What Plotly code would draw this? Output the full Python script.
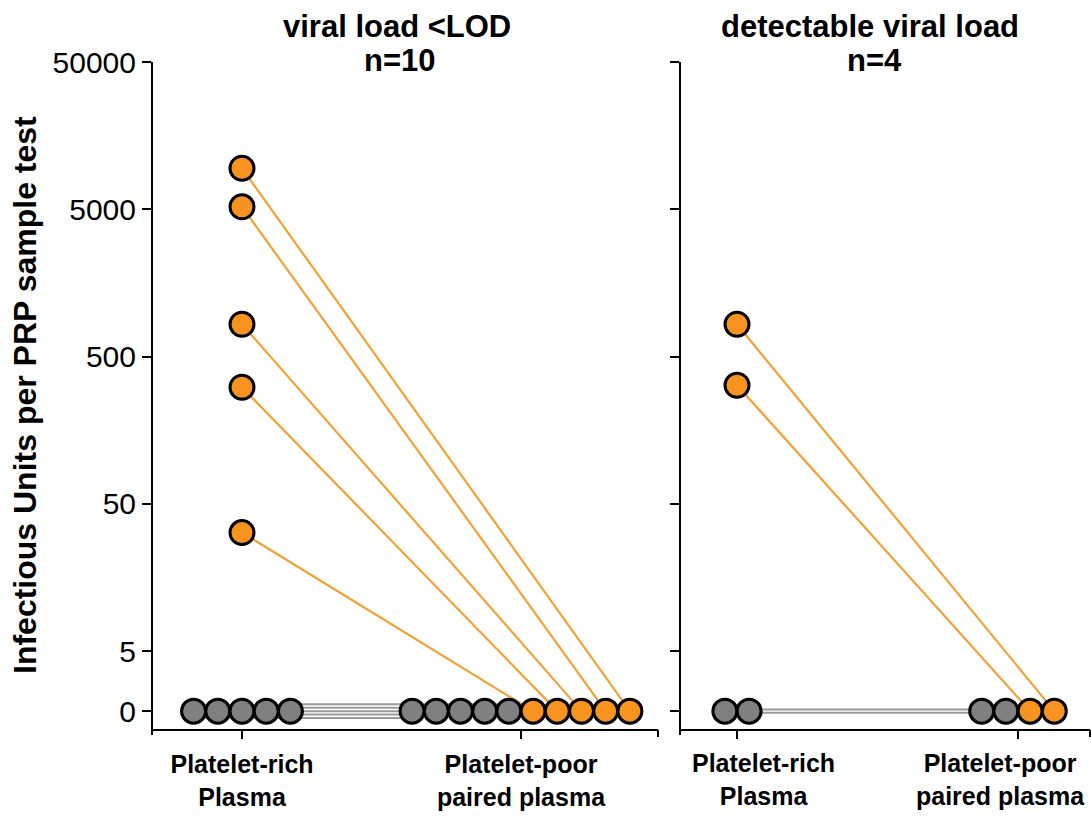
import math
import plotly.graph_objects as go

# ---------------- data ----------------
categories = ["Platelet-rich<br>Plasma", "Platelet-poor<br>paired plasma"]
panel_titles = ["viral load <LOD", "detectable viral load"]
panel_n = ["n=10", "n=4"]

# left panel (viral load <LOD): paired samples (PRP value, PPP value)
left_prp = [0, 0, 0, 0, 0, 32, 310, 830, 5200, 9500]
left_ppp = [0, 0, 0, 0, 0, 0, 0, 0, 0, 0]
# right panel (detectable viral load)
right_prp = [0, 0, 320, 830]
right_ppp = [0, 0, 0, 0]

ytick_values = [0, 5, 50, 500, 5000, 50000]
ytick_labels = ["0", "5", "50", "500", "5000", "50000"]

# ---------------- style ----------------
W, H = 1091, 816
ORANGE = "#F7931E"
ORANGE_LINE = "#F5A033"
GREY = "#808080"
GREY_LINE = "#9A9A9A"
FONT = "Liberation Sans, Arial, sans-serif"
ZERO_POS = 0.293          # position used for 0 on the broken log scale
Y_RANGE = [0.131, math.log10(50000)]


def ypos(v):
    return math.log10(v) if v > 0 else ZERO_POS


def px_x(p):
    return p / W


def px_y(p):
    return (H - p) / H


panels = [
    dict(prp=left_prp, ppp=left_ppp, xdom=(153, 658), cat_px=(242, 521), xa="x", ya="y"),
    dict(prp=right_prp, ppp=right_ppp, xdom=(680, 1090), cat_px=(737, 1018), xa="x2", ya="y2"),
]

fig = go.Figure()
STEP_PX = 24.2
Y_UNIT_PX = (735 - 62) / (Y_RANGE[1] - Y_RANGE[0])

for pi, p in enumerate(panels):
    unit = p["cat_px"][1] - p["cat_px"][0]
    p["unit"] = unit
    step = STEP_PX / unit
    p["xrange"] = [-(p["cat_px"][0] - p["xdom"][0]) / unit, (p["xdom"][1] - p["cat_px"][0]) / unit]
    prp, ppp = p["prp"], p["ppp"]
    n = len(prp)
    order = sorted(range(n), key=lambda i: prp[i])
    zeros_prp = [i for i in order if prp[i] == 0]
    nz = len(zeros_prp)
    prp_x = {}
    for k, i in enumerate(zeros_prp):
        prp_x[i] = (k - (nz - 1) / 2) * step
    for i in order:
        if prp[i] > 0:
            prp_x[i] = 0.0
    ppp_x = {}
    for k, i in enumerate(order):
        ppp_x[i] = 1 + (k - (n - 1) / 2) * step
    for k, i in enumerate(zeros_prp):
        off = (k - (nz - 1) / 2) * 3.4 / Y_UNIT_PX
        fig.add_trace(go.Scatter(
            x=[prp_x[i], ppp_x[i]], y=[ypos(prp[i]) + off, ypos(ppp[i]) + off],
            mode="lines", line=dict(color=GREY_LINE, width=2),
            xaxis=p["xa"], yaxis=p["ya"], showlegend=False, hoverinfo="skip"))
    for i in order:
        if prp[i] > 0:
            fig.add_trace(go.Scatter(
                x=[prp_x[i], ppp_x[i]], y=[ypos(prp[i]), ypos(ppp[i])],
                mode="lines", line=dict(color=ORANGE_LINE, width=2.2),
                xaxis=p["xa"], yaxis=p["ya"], showlegend=False, hoverinfo="skip"))
    xs, ys, cs = [], [], []
    for i in order:
        col = ORANGE if prp[i] > 0 else GREY
        xs += [prp_x[i], ppp_x[i]]
        ys += [ypos(prp[i]), ypos(ppp[i])]
        cs += [col, col]
    fig.add_trace(go.Scatter(
        x=xs, y=ys, mode="markers",
        marker=dict(size=24, color=cs, line=dict(color="black", width=3)),
        xaxis=p["xa"], yaxis=p["ya"], showlegend=False, hoverinfo="skip"))

tickvals_y = [ypos(v) for v in ytick_values]
axis_common = dict(showline=True, linecolor="black", linewidth=2, ticks="outside",
                   tickcolor="black", tickwidth=2, ticklen=9, showgrid=False, zeroline=False,
                   automargin=False, ticklabeloverflow="allow")

layout = dict(
    width=W, height=H, autosize=False,
    margin=dict(l=0, r=0, t=0, b=0),
    plot_bgcolor="white", paper_bgcolor="white",
    font=dict(family=FONT, color="black"),
)
for pi, p in enumerate(panels):
    sfx = "" if pi == 0 else "2"
    layout["xaxis" + sfx] = dict(
        axis_common, domain=[px_x(p["xdom"][0]), px_x(p["xdom"][1])], range=p["xrange"],
        tickmode="array", tickvals=[0, 1], ticktext=categories,
        showticklabels=(pi == 0), ticklabelstandoff=4,
        tickfont=dict(size=25, family=FONT, weight="bold"),
        anchor="free", position=px_y(730), ticklen=8)
    layout["yaxis" + sfx] = dict(
        axis_common, domain=[px_y(735), px_y(62)], range=Y_RANGE,
        tickmode="array", tickvals=tickvals_y, ticktext=ytick_labels,
        showticklabels=(pi == 0), tickfont=dict(size=30, family=FONT),
        anchor="free", position=px_x(p["xdom"][0] - 1 if pi == 0 else p["xdom"][0]))
fig.update_layout(**layout)

# right panel category labels (shifted to stay inside the figure)
p2 = panels[1]
for ci, lab_px in enumerate([763, 1000]):
    fig.add_annotation(text="<b>%s</b>" % categories[ci], xref="x2", yref="paper",
                       x=(lab_px - p2["cat_px"][0]) / p2["unit"], y=px_y(747),
                       xanchor="center", yanchor="top", showarrow=False,
                       font=dict(size=25, family=FONT))

# end ticks at right end of the x axes
for p in panels:
    fig.add_shape(type="line", xref="paper", yref="paper",
                  x0=px_x(p["xdom"][1]), x1=px_x(p["xdom"][1]),
                  y0=px_y(730), y1=px_y(737), line=dict(color="black", width=2))

# titles
title_pos = [(397, 400), (870, 874)]
for pi in range(2):
    fig.add_annotation(text="<b>%s</b>" % panel_titles[pi], xref="paper", yref="paper",
                       x=px_x(title_pos[pi][0]), y=px_y(26), xanchor="center", yanchor="middle",
                       showarrow=False, font=dict(size=31, family=FONT))
    fig.add_annotation(text="<b>%s</b>" % panel_n[pi], xref="paper", yref="paper",
                       x=px_x(title_pos[pi][1]), y=px_y(61), xanchor="center", yanchor="middle",
                       showarrow=False, font=dict(size=31, family=FONT))

fig.add_annotation(text="<b>Infectious Units per PRP sample test</b>", xref="paper", yref="paper",
                   x=px_x(25), y=px_y(395), textangle=-90, xanchor="center", yanchor="middle",
                   showarrow=False, font=dict(size=32, family=FONT))

fig.write_html("out.html", config={"displayModeBar": False},
               post_script="document.body.style.margin='0';document.body.style.overflow='hidden';")
